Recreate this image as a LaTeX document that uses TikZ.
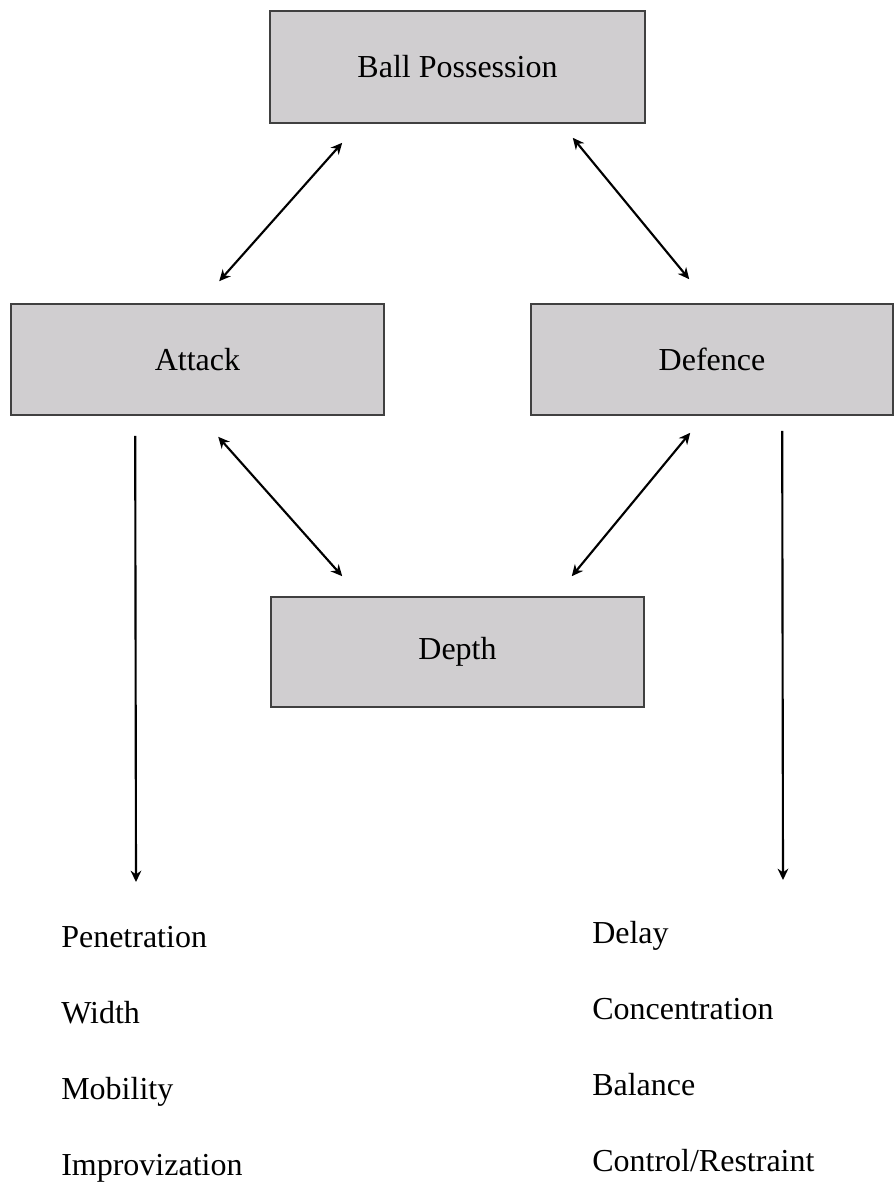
\documentclass[tikz,border=0pt]{standalone}
\usepackage{fontspec}
\setmainfont{Liberation Serif}
\usepackage{xcolor}
\usetikzlibrary{arrows.meta}
\definecolor{boxgray}{RGB}{208,206,208}
\definecolor{edgegray}{RGB}{64,64,64}

\begin{document}
\begin{tikzpicture} [x=0.75pt,y=-0.75pt,
    box/.style={draw=edgegray,fill=boxgray,line width=1.2pt,inner sep=0pt,font=\fontsize{24}{28}\selectfont},
    link/.style={line width=1.6pt,{Stealth[length=8.5pt,width=8pt]}-{Stealth[length=8.5pt,width=8pt]}},
    down/.style={line width=1.6pt,-{Stealth[length=8.5pt,width=8pt]}},
    item/.style={anchor=base west,inner sep=0pt,font=\fontsize{24}{28}\selectfont}]
        \useasboundingbox (0,0) rectangle (894,1183);
        % the four boxes
        \node[box,minimum width=281.25pt,minimum height=84pt] (ball) at (457.5,67) {Ball Possession};
        \node[box,minimum width=279.75pt,minimum height=83.25pt] (attack) at (197.5,359.5) {Attack};
        \node[box,minimum width=271.5pt,minimum height=83.25pt] (defence) at (712,359.5) {Defence};
        \node[box,minimum width=279.75pt,minimum height=82.5pt] (depth) at (457.5,652) {Depth};

  \draw[link] ([shift={(73,19)}]ball.south west) -- ([shift={(209,-22)}]attack.north west);%ball-attack%
  \draw[link] ([shift={(-73,14)}]ball.south east) -- ([shift={(159,-24)}]defence.north west);%ball-defence%
  \draw[link] ([shift={(208,21)}]attack.south west) -- ([shift={(72,-20)}]depth.north west);%attack-depth%
  \draw[link] ([shift={(160,17)}]defence.south west) -- ([shift={(-73,-20)}]depth.north east);%defence-depth%

        \coordinate (attackend) at (136,882);
        \coordinate (defenceend) at (783,880);
  \draw[down] ([shift={(125,20)}]attack.south west) -- (attackend);
  \draw[down] ([shift={(252,15)}]defence.south west) -- (defenceend);

        % principles of play
        \foreach \t [count=\i] in {Penetration,Width,Mobility,Improvization}
          \node[item] (att\i) at (61,{947+76*(\i-1)}) {\t};
        \foreach \t [count=\i] in {Delay,Concentration,Balance,Control/Restraint}
          \node[item] (def\i) at (592,{943+76*(\i-1)}) {\t};
\end{tikzpicture}
\end{document}
